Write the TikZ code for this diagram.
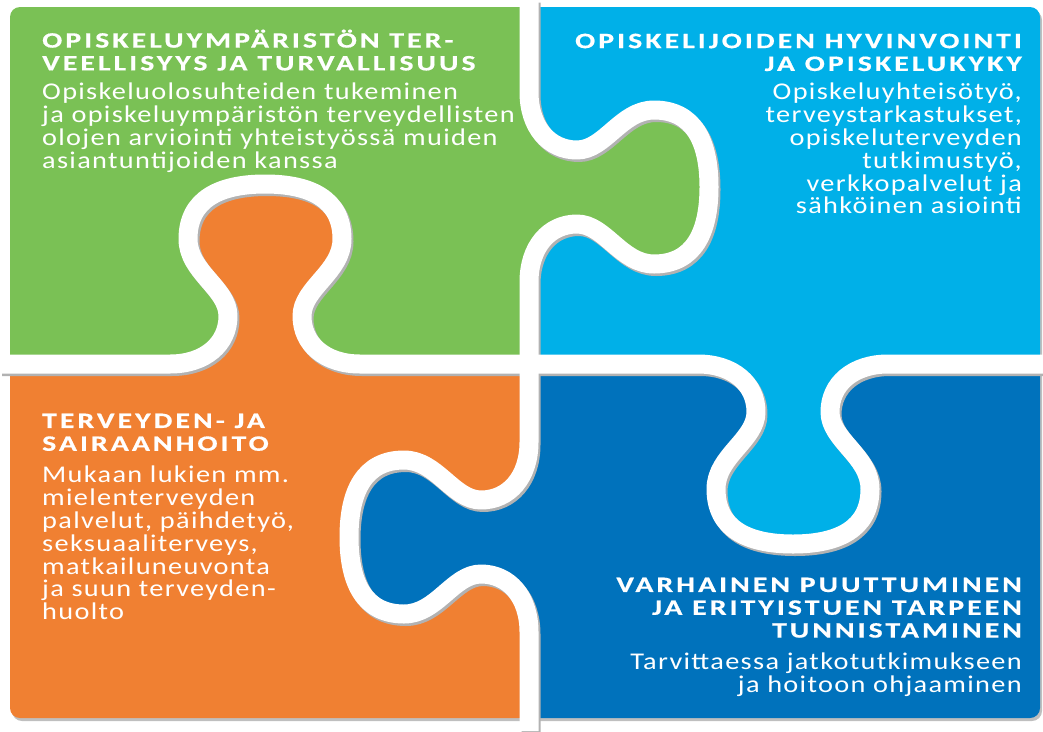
\documentclass[tikz,border=0pt]{standalone}
\usepackage{fontspec}
\newfontfamily\bodyfont{Carlito}[FakeStretch=1.18,LetterSpace=5.5]
\newfontfamily\headfont{Carlito}[FakeStretch=1.35,LetterSpace=14,BoldFeatures={FakeBold=0.6}]

\definecolor{pzgreen}{RGB}{122,193,85}
\definecolor{pzcyan}{RGB}{0,176,232}
\definecolor{pzorange}{RGB}{240,128,50}
\definecolor{pzblue}{RGB}{0,114,188}

% one puzzle knob, seam midline, local coordinates
\newcommand\knob{.. controls (-60,0) and (-37,20) .. (-37,48) .. controls (-37,76) and (-77,92) .. (-77,125) .. controls (-77,165) and (-45,180) .. (0,180) .. controls (45,180) and (77,165) .. (77,125) .. controls (77,92) and (37,76) .. (37,48) .. controls (37,20) and (60,0) .. (95,0)}

\tikzset{
  knobgreen/.style={shift={(529,187)}, x={(0pt,1pt)}, y={(1pt,0pt)}},
  knoborange/.style={shift={(265,364)}, x={(1pt,0pt)}, y={(0pt,1pt)}},
  knobcyan/.style={shift={(793,364)}, x={(1pt,0pt)}, y={(0pt,-1pt)}},
  knobblue/.style={shift={(529,537)}, x={(0pt,1pt)}, y={(-1pt,0pt)}},
  seam/.style={draw=white, line width=19pt, line join=round},
  seamshade/.style={draw=black!30, line width=19pt, line join=round, xshift=2pt, yshift=-2.5pt},
  piecehead/.style={font=\headfont\bfseries\fontsize{22}{22.8}\selectfont, text=white, inner sep=0pt},
  piecetext/.style={font=\bodyfont\fontsize{24}{22.8}\selectfont, text=white, inner sep=0pt},
}

\begin{document}
\begin{tikzpicture}[x=1pt, y=-1pt]
    \useasboundingbox (0,0) rectangle (1043,731);

    % Pieces
    \fill[black!25, rounded corners=10, xshift=2pt, yshift=-3pt] (10,7) rectangle (1040,718);
    \fill[pzgreen, rounded corners=10] (10,7) rectangle (529,364);
    \fill[pzcyan, rounded corners=10] (529,7) rectangle (1040,364);
    \fill[pzorange, rounded corners=10] (10,364) rectangle (529,718);
    \fill[pzblue, rounded corners=10] (529,364) rectangle (1040,718);

    % Knobs
    \fill[pzgreen, knobgreen] (-95,0) \knob -- cycle;
    \fill[pzorange, knoborange] (-95,0) \knob -- cycle;
    \fill[pzcyan, knobcyan] (-95,0) \knob -- cycle;
    \fill[pzblue, knobblue] (-95,0) \knob -- cycle;

    % Seams
    \draw[seamshade, knobgreen] (-177,0) -- (-95,0) \knob -- (187,0);
    \draw[seamshade, knoborange] (-265,0) -- (-95,0) \knob -- (264,0);
    \draw[seamshade, knobcyan] (-264,0) -- (-95,0) \knob -- (250,0);
    \draw[seamshade, knobblue] (-194,0) -- (-95,0) \knob -- (173,0);
    \draw[seam, knobgreen] (-177,0) -- (-95,0) \knob -- (187,0);
    \draw[seam, knoborange] (-265,0) -- (-95,0) \knob -- (264,0);
    \draw[seam, knobcyan] (-264,0) -- (-95,0) \knob -- (250,0);
    \draw[seam, knobblue] (-194,0) -- (-95,0) \knob -- (173,0);

    % Texts
    \node[piecehead, anchor=north west, align=left] (greenhead) at (42,29.5) {OPISKELUYMPÄRISTÖN TER-\\VEELLISYYS JA TURVALLISUUS};
    \node[piecetext, anchor=north west, align=left] (greentext) at (42,83) {Opiskeluolosuhteiden tukeminen\\ja opiskeluympäristön terveydellisten\\olojen arviointi yhteistyössä muiden\\asiantuntijoiden kanssa};

    \node[piecehead, anchor=north east, align=right] (cyanhead) at (1022,33.5) {OPISKELIJOIDEN HYVINVOINTI\\JA OPISKELUKYKY};
    \node[piecetext, anchor=north east, align=right] (cyantext) at (1022,83) {Opiskeluyhteisötyö,\\terveystarkastukset,\\opiskeluterveyden\\tutkimustyö,\\verkkopalvelut ja\\sähköinen asiointi};

    \node[piecehead, anchor=north west, align=left] (orangehead) at (42,413.5) {TERVEYDEN- JA\\SAIRAANHOITO};
    \node[piecetext, anchor=north west, align=left] (orangetext) at (42,466) {Mukaan lukien mm.\\mielenterveyden\\palvelut, päihdetyö,\\seksuaaliterveys,\\matkailuneuvonta\\ja suun terveyden-\\huolto};

    \node[piecehead, anchor=north east, align=right] (bluehead) at (1022,577.5) {VARHAINEN PUUTTUMINEN\\JA ERITYISTUEN TARPEEN\\TUNNISTAMINEN};
    \node[piecetext, anchor=north east, align=right] (bluetext) at (1022,653) {Tarvittaessa jatkotutkimukseen\\ja hoitoon ohjaaminen};
  \end{tikzpicture}
\end{document}
